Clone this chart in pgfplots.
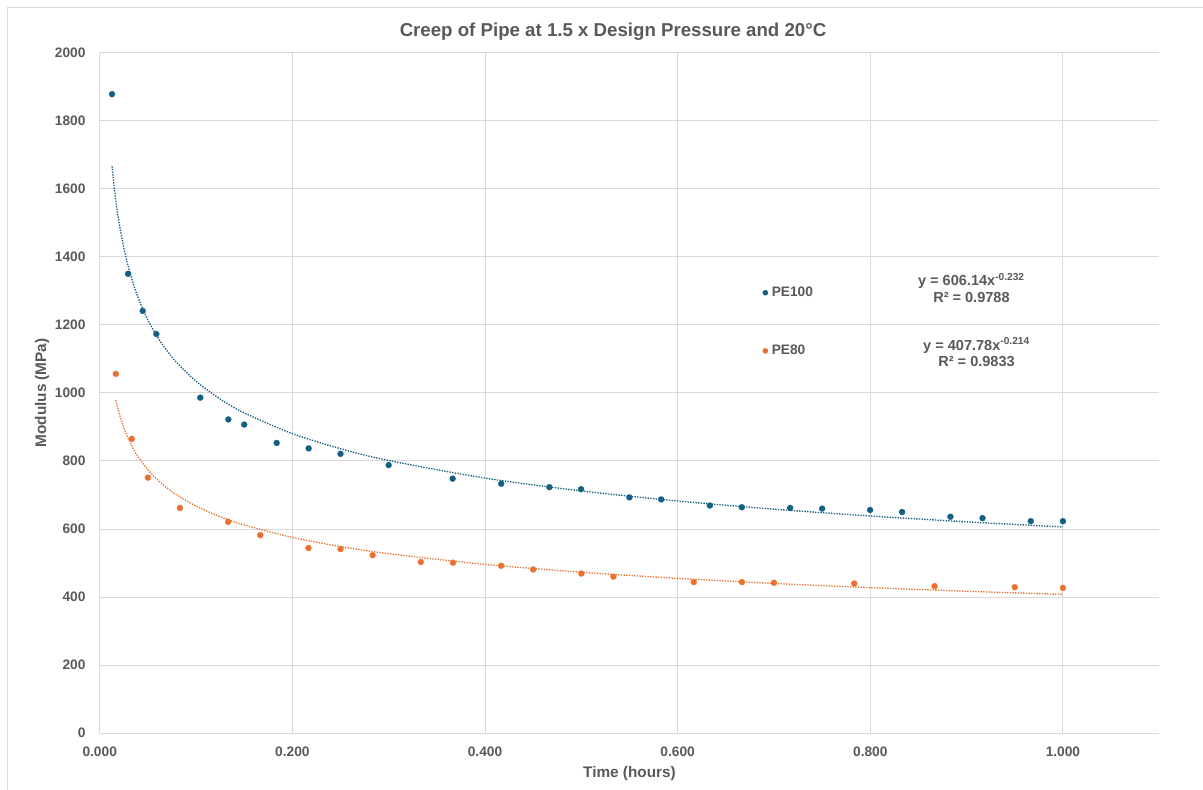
\documentclass[border=0pt]{standalone}
\usepackage{fontspec}
\setmainfont{Liberation Sans}
\usepackage{pgfplots}
\pgfplotsset{compat=1.18}
\definecolor{peblue}{HTML}{156082}
\definecolor{peorange}{HTML}{E97132}
\definecolor{txtgrey}{HTML}{595959}
\definecolor{gridgrey}{HTML}{D9D9D9}
\begin{document}
\begin{tikzpicture}[x=1pt,y=1pt]
\useasboundingbox (-74.8,-42.6) rectangle (827.5,549.9);
\draw[gridgrey, line width=0.75pt] (-69.5,-80) rectangle (860,544.6);
\node[anchor=base, font=\fontsize{14}{16}\selectfont\bfseries, text=txtgrey] at (385,522.5) {Creep of Pipe at 1.5 x Design Pressure and 20°C};
\begin{axis}[
  at={(0,0)}, anchor=south west, scale only axis,
  width=794.7pt, height=510.4pt,
  xmin=0, xmax=1.1, ymin=0, ymax=2000,
  xtick={0,0.2,0.4,0.6,0.8,1.0}, ytick={0,200,...,2000},
  grid=major, major grid style={gridgrey, line width=0.75pt},
  axis line style={draw=none}, major tick length=0pt,
  scaled ticks=false,
  /pgf/number format/assume math mode=true,
  tick label style={font=\fontsize{10.3}{12}\selectfont\bfseries, text=txtgrey},
  x tick label style={/pgf/number format/.cd, fixed, fixed zerofill, precision=3, /tikz/.cd, inner sep=0pt, anchor=north, yshift=-9.75pt},
  y tick label style={/pgf/number format/.cd, fixed, 1000 sep={}, /tikz/.cd, inner sep=0pt, anchor=east, xshift=-10.5pt},
  xlabel={Time (hours)},
  ylabel={Modulus (MPa)},
  xlabel style={font=\fontsize{11.5}{13}\selectfont\bfseries, text=txtgrey, at={(axis description cs:0.5,-0.0654)}, anchor=base, inner sep=0pt},
  ylabel style={font=\fontsize{11.5}{13}\selectfont\bfseries, text=txtgrey, at={(axis description cs:-0.0507,0.5)}, anchor=base, inner sep=0pt},
  legend style={draw=none, fill=none, inner sep=0pt, at={(axis cs:0.6880,1209)}, anchor=west, row sep=29.3pt, font=\fontsize{10.3}{12}\selectfont\bfseries, text=txtgrey, nodes={inner sep=2.8pt}},
  legend cell align=left,
  legend image code/.code={\draw[#1, mark size=2pt] plot coordinates {(0pt,0pt)};},
]
% trendline PE100: y = 606.14 x^-0.232
\addplot[peblue, smooth, no markers, forget plot, line width=1pt, dash pattern=on 1pt off 1pt] coordinates {
(0.0128,1666.1) (0.015,1605.9) (0.0175,1549.5) (0.02,1502.2) (0.025,1426.4) (0.03,1367.4) (0.035,1319.3) (0.04,1279.1) (0.05,1214.6) (0.06,1164.2) (0.07,1123.4) (0.08,1089.1) (0.1,1034.1) (0.125,982.0) (0.15,941.3) (0.2,880.5) (0.25,836.1) (0.3,801.4) (0.4,749.7) (0.5,711.9) (0.6,682.4) (0.7,658.4) (0.8,638.3) (0.9,621.1) (1.0,606.1)
};
% trendline PE80: y = 407.78 x^-0.214
\addplot[peorange, smooth, no markers, forget plot, line width=1pt, dash pattern=on 1pt off 1pt] coordinates {
(0.0167,978.9) (0.02,941.9) (0.0225,918.4) (0.025,898.0) (0.03,863.6) (0.035,835.6) (0.04,812.1) (0.05,774.2) (0.06,744.6) (0.07,720.4) (0.08,700.1) (0.1,667.5) (0.125,636.3) (0.15,612.0) (0.2,575.4) (0.25,548.6) (0.3,527.6) (0.4,496.1) (0.5,473.0) (0.6,454.9) (0.7,440.1) (0.8,427.7) (0.9,417.1) (1.0,407.8)
};
\addplot[peblue, only marks, mark=*, mark size=2.3pt, mark options={draw=peblue, fill=peblue, line width=0.1pt}] coordinates {
(0.0128,1878) (0.0294,1350) (0.0446,1241) (0.0588,1173) (0.1044,986) (0.1335,922) (0.1500,907) (0.1837,853) (0.2169,837) (0.2500,821) (0.3000,788) (0.3664,748) (0.4168,733) (0.4668,723) (0.4997,717) (0.5499,693) (0.5829,687) (0.6334,669) (0.6666,664) (0.7168,662) (0.7500,660) (0.7998,656) (0.8330,650) (0.8832,636) (0.9165,632) (0.9666,623) (1.0000,623)
};
\addlegendentry{PE100}
\addplot[peorange, only marks, mark=*, mark size=2.3pt, mark options={draw=peorange, fill=peorange, line width=0.1pt}] coordinates {
(0.0167,1056) (0.0333,865) (0.0500,751) (0.0833,662) (0.1333,621) (0.1667,582) (0.2167,544) (0.2500,541) (0.2833,523) (0.3333,503) (0.3667,501) (0.4167,492) (0.4500,481) (0.5000,469) (0.5333,460) (0.6167,444) (0.6667,444) (0.7000,442) (0.7833,440) (0.8667,432) (0.9500,429) (1.0000,427)
};
\addlegendentry{PE80}
\node[align=center, font=\fontsize{10.9}{12.5}\selectfont\bfseries, text=txtgrey, inner sep=0pt] at (axis cs:0.905,1309) {y = 606.14x\textsuperscript{-0.232}\\R² = 0.9788};
\node[align=center, font=\fontsize{10.9}{12.5}\selectfont\bfseries, text=txtgrey, inner sep=0pt] at (axis cs:0.9103,1119) {y = 407.78x\textsuperscript{-0.214}\\R² = 0.9833};
\end{axis}
\end{tikzpicture}
\end{document}
